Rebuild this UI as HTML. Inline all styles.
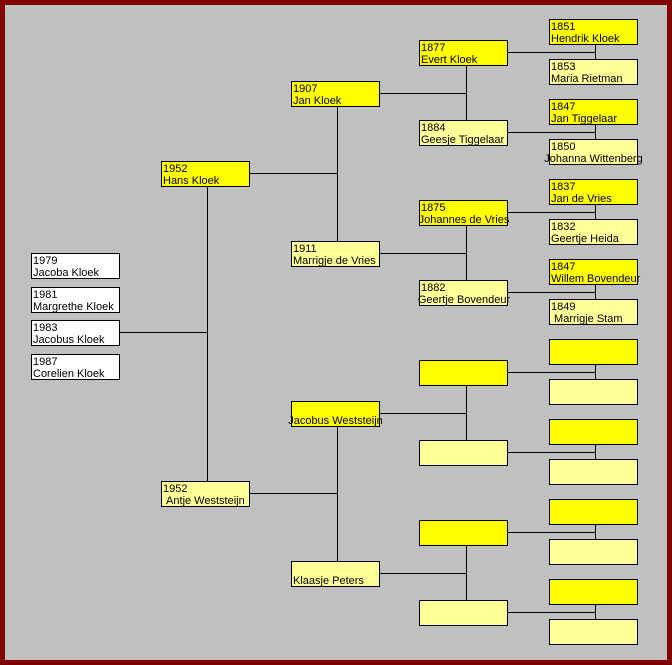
<!DOCTYPE html>
<html><head><meta charset="utf-8"><style>
html,body{margin:0;padding:0}
#f{position:relative;width:662px;height:655px;background:#c0c0c0;border:5px solid #800000;overflow:hidden}
.b{position:absolute;width:89px;height:26px;border:1px solid #000;box-sizing:border-box;font:11px/12px "Liberation Sans",sans-serif;padding:1px 0 0 1px;white-space:nowrap;color:#000}
.f{background:#ffff00}.m{background:#ffff99}.w{background:#fff}
.c{text-align:center;margin:0 -20px;padding-right:1px}
.h,.v{position:absolute;background:#000}
.h{height:1px}.v{width:1px}
</style></head><body><div id="f">
<!-- coordinates offset by -5 for border -->
<div id="in" style="position:absolute;left:-5px;top:-5px;width:672px;height:665px">
<!-- children -->
<div class="b w" style="left:31px;top:253px">1979<br>Jacoba Kloek</div>
<div class="b w" style="left:31px;top:287px">1981<br>Margrethe Kloek</div>
<div class="b w" style="left:31px;top:320px">1983<br>Jacobus Kloek</div>
<div class="b w" style="left:31px;top:354px">1987<br>Corelien Kloek</div>
<div class="h" style="left:119px;top:332px;width:88px"></div>
<div class="v" style="left:207px;top:186px;height:295px"></div>
<!-- gen2 -->
<div class="b f" style="left:161px;top:161px">1952<br>Hans Kloek</div>
<div class="b m" style="left:161px;top:481px">1952<br>&nbsp;Antje Weststeijn</div>
<div class="h" style="left:249px;top:173px;width:88px"></div>
<div class="v" style="left:337px;top:106px;height:135px"></div>
<div class="h" style="left:249px;top:493px;width:88px"></div>
<div class="v" style="left:337px;top:426px;height:135px"></div>
<!-- gen3 -->
<div class="b f" style="left:291px;top:81px">1907<br>Jan Kloek</div>
<div class="b m" style="left:291px;top:241px">1911<br>Marrigje de Vries</div>
<div class="b f" style="left:291px;top:401px">&nbsp;<div class="c">Jacobus Weststeijn</div></div>
<div class="b m" style="left:291px;top:561px">&nbsp;<br>Klaasje Peters</div>
<div class="h" style="left:379px;top:93px;width:87px"></div>
<div class="h" style="left:379px;top:253px;width:87px"></div>
<div class="h" style="left:379px;top:413px;width:87px"></div>
<div class="h" style="left:379px;top:573px;width:87px"></div>
<div class="v" style="left:466px;top:65px;height:55px"></div>
<div class="v" style="left:466px;top:225px;height:55px"></div>
<div class="v" style="left:466px;top:385px;height:55px"></div>
<div class="v" style="left:466px;top:545px;height:55px"></div>
<!-- gen4 -->
<div class="b f" style="left:419px;top:40px">1877<br>Evert Kloek</div>
<div class="b m" style="left:419px;top:120px">1884<br>Geesje Tiggelaar</div>
<div class="b f" style="left:419px;top:200px">1875<div class="c" style="margin:0 -20px 0 -19px">Johannes de Vries</div></div>
<div class="b m" style="left:419px;top:280px">1882<div class="c" style="margin:0 -20px 0 -19px">Geertje Bovendeur</div></div>
<div class="b f" style="left:419px;top:360px"></div>
<div class="b m" style="left:419px;top:440px"></div>
<div class="b f" style="left:419px;top:520px"></div>
<div class="b m" style="left:419px;top:600px"></div>
<div class="h" style="left:507px;top:52px;width:89px"></div>
<div class="h" style="left:507px;top:132px;width:89px"></div>
<div class="h" style="left:507px;top:212px;width:89px"></div>
<div class="h" style="left:507px;top:292px;width:89px"></div>
<div class="h" style="left:507px;top:372px;width:89px"></div>
<div class="h" style="left:507px;top:452px;width:89px"></div>
<div class="h" style="left:507px;top:532px;width:89px"></div>
<div class="h" style="left:507px;top:612px;width:89px"></div>
<div class="v" style="left:595px;top:44px;height:15px"></div>
<div class="v" style="left:595px;top:124px;height:15px"></div>
<div class="v" style="left:595px;top:204px;height:15px"></div>
<div class="v" style="left:595px;top:284px;height:15px"></div>
<div class="v" style="left:595px;top:364px;height:15px"></div>
<div class="v" style="left:595px;top:444px;height:15px"></div>
<div class="v" style="left:595px;top:524px;height:15px"></div>
<div class="v" style="left:595px;top:604px;height:15px"></div>
<!-- gen5 -->
<div class="b f" style="left:549px;top:19px">1851<br>Hendrik Kloek</div>
<div class="b m" style="left:549px;top:59px">1853<br>Maria Rietman</div>
<div class="b f" style="left:549px;top:99px">1847<br>Jan Tiggelaar</div>
<div class="b m" style="left:549px;top:139px">1850<div class="c">Johanna Wittenberg</div></div>
<div class="b f" style="left:549px;top:179px">1837<br>Jan de Vries</div>
<div class="b m" style="left:549px;top:219px">1832<br>Geertje Heida</div>
<div class="b f" style="left:549px;top:259px">1847<br>Willem Bovendeur</div>
<div class="b m" style="left:549px;top:299px">1849<br>&nbsp;Marrigje Stam</div>
<div class="b f" style="left:549px;top:339px"></div>
<div class="b m" style="left:549px;top:379px"></div>
<div class="b f" style="left:549px;top:419px"></div>
<div class="b m" style="left:549px;top:459px"></div>
<div class="b f" style="left:549px;top:499px"></div>
<div class="b m" style="left:549px;top:539px"></div>
<div class="b f" style="left:549px;top:579px"></div>
<div class="b m" style="left:549px;top:619px"></div>
</div>
</div></body></html>
